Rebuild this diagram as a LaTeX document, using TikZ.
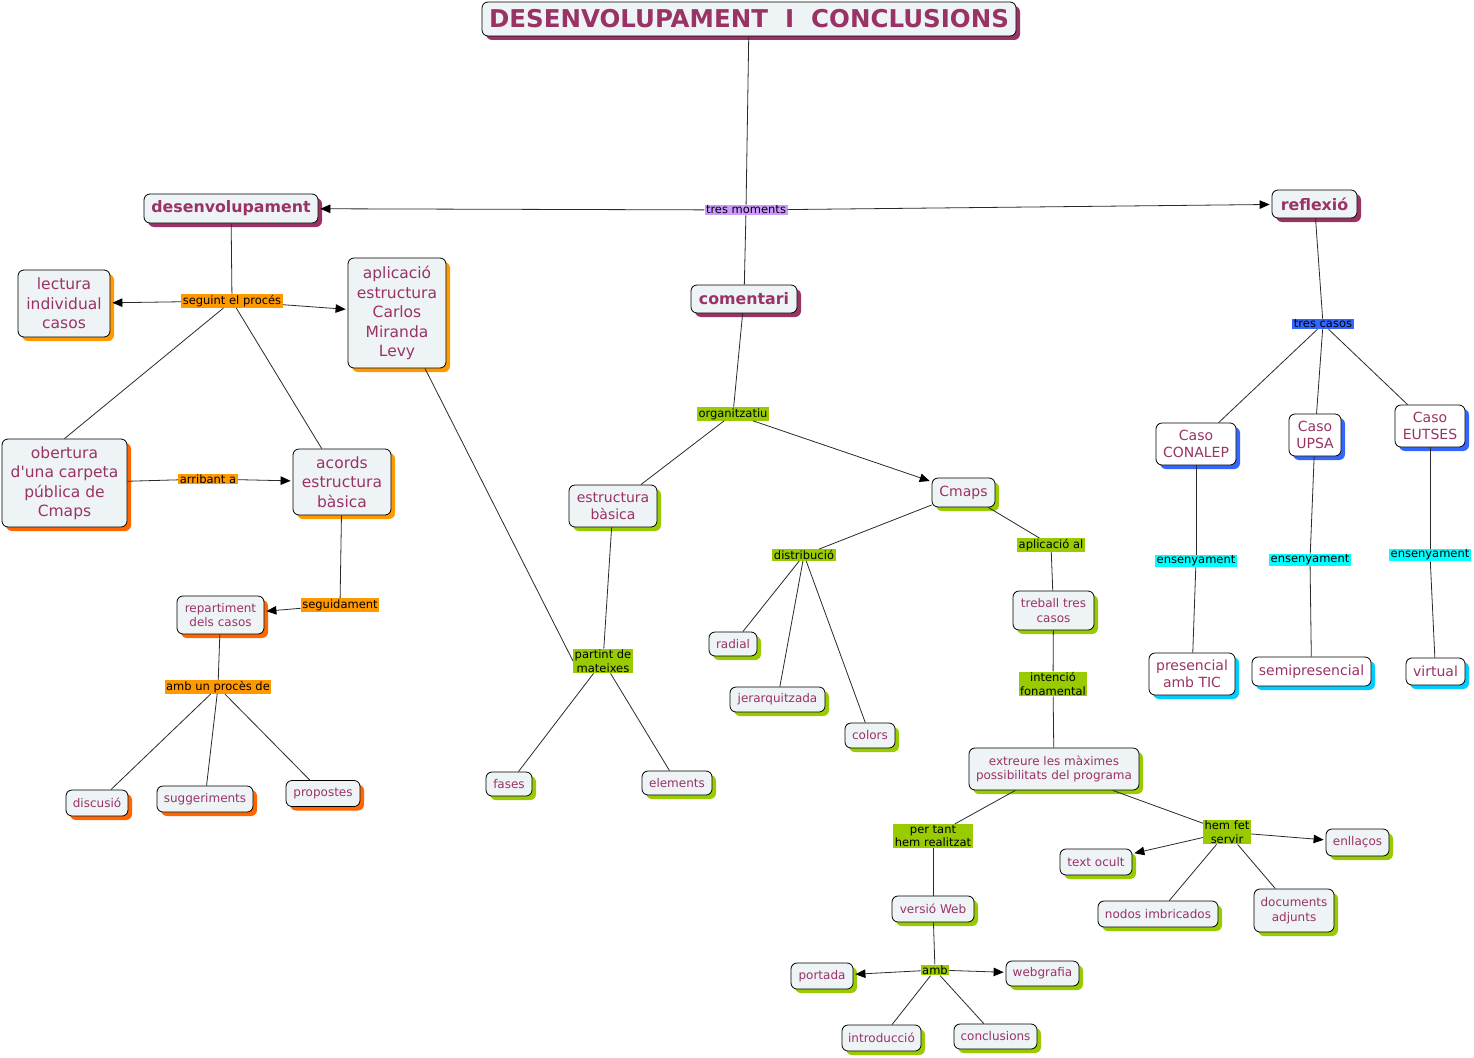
\documentclass[tikz,border=0pt]{standalone}
\usepackage{fontspec}
\setmainfont{DejaVu Sans}
\usetikzlibrary{shadows,arrows.meta}
\definecolor{ntext}{HTML}{993366}
\definecolor{nfill}{HTML}{EEF3F5}
\definecolor{cpur}{HTML}{993366}
\definecolor{cora}{HTML}{FF9900}
\definecolor{cred}{HTML}{FF6600}
\definecolor{cgrn}{HTML}{99CC00}
\definecolor{cblu}{HTML}{3366FF}
\definecolor{ccya}{HTML}{00CCFF}
\definecolor{lcya}{HTML}{00FFFF}
\definecolor{lpur}{HTML}{CC99FF}
\definecolor{lnc}{HTML}{2A2A2A}
\begin{document}
\begin{tikzpicture}[x=1pt,y=-1pt,
  box/.style={rectangle,rounded corners=6pt,draw=black,line width=0.8pt,fill=nfill,text=ntext,align=center,inner sep=0pt},
  wbox/.style={box,fill=white},
  shd/.style={drop shadow={shadow xshift=4pt,shadow yshift=-4pt,fill=#1,opacity=1}},
  fbig/.style={font=\fontsize{24.5}{28}\bfseries\selectfont},
  fbold/.style={font=\fontsize{15.8}{19}\bfseries\selectfont},
  fmed/.style={font=\fontsize{15.5}{19.5}\selectfont},
  fmid/.style={font=\fontsize{14}{17}\selectfont},
  fsm/.style={font=\fontsize{12}{14.5}\selectfont},
  lab/.style={fill=#1,text=black,inner xsep=1.5pt,inner ysep=1pt,align=center,font=\fontsize{11.5}{13.5}\selectfont},
  ln/.style={draw=lnc,line width=0.8pt},
  arr/.style={ln,-{Triangle[length=10pt,width=8.5pt,color=black]},shorten >=2pt}
]
\useasboundingbox[fill=white] (0,0) rectangle (1474,1057);

% main nodes
\node[box,shd=cpur,fbig,minimum width=534,minimum height=34] (title) at (749,19) {DESENVOLUPAMENT\ \ I\ \ CONCLUSIONS};
\node[box,shd=cpur,fbold,minimum width=174,minimum height=29] (desen) at (231,208.5) {desenvolupament};
\node[box,shd=cpur,fbold,minimum width=85,minimum height=28] (refl) at (1314.5,204) {reflexió};
\node[box,shd=cpur,fbold,minimum width=106,minimum height=28] (coment) at (744,299) {comentari};

% left branch
\node[box,shd=cora,fmed,minimum width=92,minimum height=67] (lect) at (64,303.5) {lectura\\individual\\casos};
\node[box,shd=cora,fmed,minimum width=98,minimum height=110] (aplic) at (397,313) {aplicació\\estructura\\Carlos\\Miranda\\Levy};
\node[box,shd=cred,fmed,minimum width=125,minimum height=88] (obert) at (64.5,483) {obertura\\d\textquotesingle una carpeta\\pública de\\Cmaps};
\node[box,shd=cora,fmed,minimum width=98,minimum height=66] (acords) at (342,482) {acords\\estructura\\bàsica};
\node[box,shd=cred,fsm,minimum width=87,minimum height=38] (repart) at (220.5,615) {repartiment\\dels casos};
\node[box,shd=cred,fsm,minimum width=62,minimum height=26] (discu) at (97,803) {discusió};
\node[box,shd=cred,fsm,minimum width=96,minimum height=26] (sugg) at (205,799) {suggeriments};
\node[box,shd=cred,fsm,minimum width=74,minimum height=26] (propo) at (323,793.5) {propostes};

% middle branch
\node[box,shd=cgrn,fmid,minimum width=88,minimum height=42] (estbas) at (613,506) {estructura\\bàsica};
\node[box,shd=cgrn,fsm,minimum width=46,minimum height=24] (fases) at (509,784) {fases};
\node[box,shd=cgrn,fsm,minimum width=70,minimum height=24] (elem) at (677,783) {elements};
\node[box,shd=cgrn,fmid,minimum width=63,minimum height=29] (cmaps) at (963.5,492.5) {Cmaps};
\node[box,shd=cgrn,fsm,minimum width=48,minimum height=24] (radial) at (733,644) {radial};
\node[box,shd=cgrn,fsm,minimum width=95,minimum height=25] (jerar) at (777.5,699.5) {jerarquitzada};
\node[box,shd=cgrn,fsm,minimum width=50,minimum height=25] (colors) at (870,735.5) {colors};
\node[box,shd=cgrn,fsm,minimum width=81,minimum height=39] (treball) at (1053.5,610.5) {treball tres\\casos};
\node[box,shd=cgrn,fsm,minimum width=170,minimum height=42] (extr) at (1054,769) {extreure les màximes\\possibilitats del programa};
\node[box,shd=cgrn,fsm,minimum width=72,minimum height=26] (text) at (1096,862) {text ocult};
\node[box,shd=cgrn,fsm,minimum width=63,minimum height=27] (enll) at (1357.5,842.5) {enllaços};
\node[box,shd=cgrn,fsm,minimum width=120,minimum height=26] (nodos) at (1158,914) {nodos imbricados};
\node[box,shd=cgrn,fsm,minimum width=80,minimum height=43] (docs) at (1294,910.5) {documents\\adjunts};
\node[box,shd=cgrn,fsm,minimum width=82,minimum height=26] (versio) at (933,909) {versió Web};
\node[box,shd=cgrn,fsm,minimum width=62,minimum height=26] (portada) at (822,976) {portada};
\node[box,shd=cgrn,fsm,minimum width=73,minimum height=25] (webg) at (1042.5,973.5) {webgrafia};
\node[box,shd=cgrn,fsm,minimum width=79,minimum height=26] (intro) at (881.5,1038) {introducció};
\node[box,shd=cgrn,fsm,minimum width=83,minimum height=25] (concl) at (995.5,1036.5) {conclusions};

% right branch
\node[wbox,shd=cblu,fmid,minimum width=80,minimum height=42] (conalep) at (1196,444) {Caso\\CONALEP};
\node[wbox,shd=cblu,fmid,minimum width=52,minimum height=42] (upsa) at (1315,435) {Caso\\UPSA};
\node[wbox,shd=cblu,fmid,minimum width=70,minimum height=42] (eutses) at (1430,426) {Caso\\EUTSES};
\node[wbox,shd=ccya,fmid,minimum width=86,minimum height=42] (pres) at (1192,674) {presencial\\amb TIC};
\node[wbox,shd=ccya,fmid,minimum width=119,minimum height=29] (semi) at (1311.5,671.5) {semipresencial};
\node[wbox,shd=ccya,fmid,minimum width=59,minimum height=27] (virt) at (1435.5,671.5) {virtual};

% link labels
\node[lab=lpur] (tresm) at (746,210) {tres moments};
\node[lab=cora] (seguint) at (232,301) {seguint el procés};
\node[lab=cora] (arrib) at (208,479) {arribant a};
\node[lab=cora] (segui) at (340,605) {seguidament};
\node[lab=cora] (ambun) at (218,687) {amb un procès de};
\node[lab=cgrn] (organ) at (733,414) {organitzatiu};
\node[lab=cgrn] (partint) at (603,661) {partint de\\mateixes};
\node[lab=cgrn] (distr) at (804,555) {distribució};
\node[lab=cgrn] (aplal) at (1051,545) {aplicació al};
\node[lab=cgrn] (inten) at (1053,684) {intenció\\fonamental};
\node[lab=cgrn] (pertant) at (933,836) {per tant\\hem realitzat};
\node[lab=cgrn] (hemfet) at (1227,832) {hem fet\\servir};
\node[lab=cgrn] (amb) at (935,970) {amb};
\node[lab=cblu] (tresc) at (1323,324) {tres casos};
\node[lab=lcya] (ens1) at (1196,561) {ensenyament};
\node[lab=lcya] (ens2) at (1310,560) {ensenyament};
\node[lab=lcya] (ens3) at (1430,555) {ensenyament};

% connectors
\draw[ln] (title) -- (tresm);
\draw[arr] (tresm) -- (desen);
\draw[arr] (tresm) -- (refl);
\draw[ln] (tresm) -- (coment);

\draw[ln] (desen) -- (seguint);
\draw[arr] (seguint) -- (lect);
\draw[arr] (seguint) -- (aplic);
\draw[ln] (seguint) -- (obert.north);
\draw[ln] (seguint) -- (acords);
\draw[ln] (obert) -- (arrib);
\draw[arr] (arrib) -- (acords);
\draw[ln] (acords) -- (segui);
\draw[arr] (segui) -- (repart);
\draw[ln] (repart) -- (ambun);
\draw[ln] (ambun) -- (discu);
\draw[ln] (ambun) -- (sugg);
\draw[ln] (ambun) -- (propo);

\draw[ln] (aplic) -- (partint.west);
\draw[ln] (estbas) -- (partint);
\draw[ln] (partint) -- (fases);
\draw[ln] (partint) -- (elem);

\draw[ln] (coment) -- (organ);
\draw[ln] (organ) -- (estbas);
\draw[arr] (organ) -- (cmaps);
\draw[ln] (cmaps) -- (distr);
\draw[ln] (distr) -- (radial);
\draw[ln] (distr) -- (jerar);
\draw[ln] (distr) -- (colors);
\draw[ln] (cmaps) -- (aplal);
\draw[ln] (aplal) -- (treball);
\draw[ln] (treball) -- (inten);
\draw[ln] (inten) -- (extr);
\draw[ln] (extr) -- (pertant);
\draw[ln] (pertant) -- (versio);
\draw[ln] (versio) -- (amb);
\draw[arr] (amb) -- (portada);
\draw[arr] (amb) -- (webg);
\draw[ln] (amb) -- (intro);
\draw[ln] (amb) -- (concl);
\draw[ln] (extr) -- (hemfet);
\draw[arr] (hemfet) -- (text);
\draw[arr] (hemfet) -- (enll);
\draw[ln] (hemfet) -- (nodos);
\draw[ln] (hemfet) -- (docs);

\draw[ln] (refl) -- (tresc);
\draw[ln] (tresc) -- (conalep);
\draw[ln] (tresc) -- (upsa);
\draw[ln] (tresc) -- (eutses);
\draw[ln] (conalep) -- (ens1);
\draw[ln] (ens1) -- (pres);
\draw[ln] (upsa) -- (ens2);
\draw[ln] (ens2) -- (semi);
\draw[ln] (eutses) -- (ens3);
\draw[ln] (ens3) -- (virt);
\end{tikzpicture}
\end{document}
